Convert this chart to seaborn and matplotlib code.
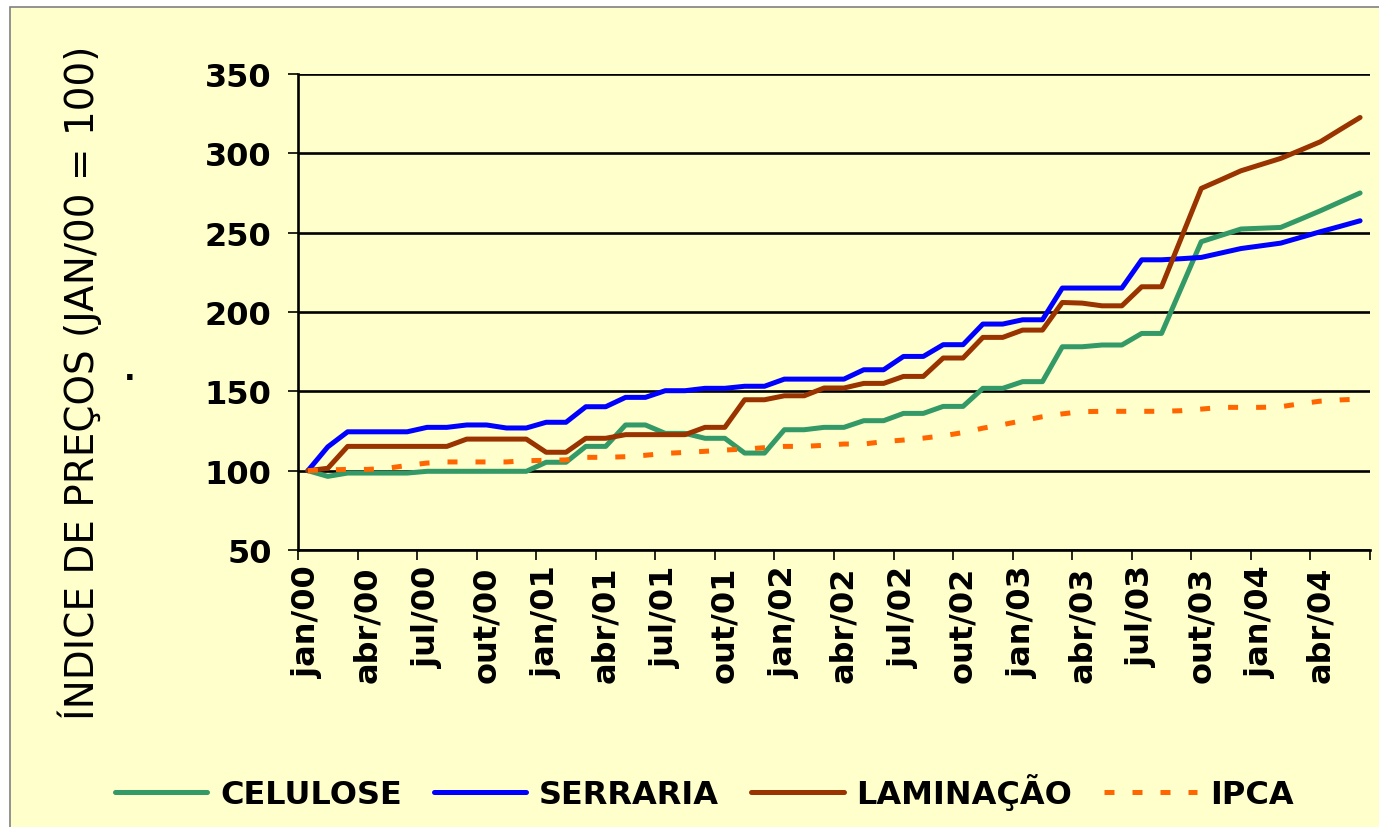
import matplotlib
matplotlib.use("Agg")
import matplotlib.pyplot as plt
from matplotlib.lines import Line2D
from matplotlib.patches import Rectangle
import pandas as pd
import seaborn as sns

# monthly index, jan/00 = 100 (jan/00 .. jun/04)
meses = ["jan", "fev", "mar", "abr", "mai", "jun", "jul", "ago", "set", "out", "nov", "dez"]
anos = ["00", "01", "02", "03", "04"]
rotulos = [m + "/" + a for a in anos for m in meses][:54]

celulose = [100, 96.4, 98.5, 98.5, 98.5, 98.5, 99.6, 99.6, 99.6, 99.6, 99.6, 99.6,
            105.3, 105.3, 115.3, 115.3, 128.8, 128.8, 123.5, 123.5, 120.4, 120.4, 111.1, 111.1,
            125.8, 125.8, 127.3, 127.3, 131.5, 131.5, 136.1, 136.1, 140.5, 140.5, 151.9, 151.9,
            156.1, 156.1, 178.1, 178.1, 179.2, 179.2, 186.5, 186.5, 215.4, 244.3, 248.3, 252.3,
            252.8, 253.3, 258.5, 263.8, 269.4, 275]
serraria = [100, 115, 124.5, 124.5, 124.5, 124.5, 127.3, 127.3, 128.8, 128.8, 126.9, 126.9,
            130.5, 130.5, 140.3, 140.3, 146.2, 146.2, 150.4, 150.4, 151.9, 151.9, 153.2, 153.2,
            157.7, 157.7, 157.7, 157.7, 163.6, 163.6, 172, 172, 179.4, 179.4, 192.4, 192.4,
            195.1, 195.1, 215.1, 215.1, 215.1, 215.1, 232.9, 232.9, 233.6, 234.4, 237.2, 240,
            241.7, 243.4, 247, 250.6, 254, 257.5]
laminacao = [100, 101.5, 115.3, 115.3, 115.3, 115.3, 115.3, 115.3, 119.9, 119.9, 119.9, 119.9,
             111.6, 111.6, 120.4, 120.4, 122.7, 122.7, 122.7, 122.7, 127.3, 127.3, 144.7, 144.7,
             147.2, 147.2, 152.1, 152.1, 155, 155, 159.4, 159.4, 171, 171, 184, 184,
             188.6, 188.6, 206, 205.6, 203.9, 203.9, 215.9, 215.9, 246.9, 277.9, 283.4, 289,
             292.9, 296.8, 302, 307.3, 315, 322.6]
ipca = [100, 100.5, 100.8, 100.8, 101.5, 103.3, 104.8, 105.5, 105.5, 105.5, 105.5, 106.3,
        106.5, 106.8, 108.4, 108.4, 108.8, 109.7, 110.9, 111.5, 112.2, 113, 113.6, 114.5,
        115.3, 115.3, 116, 116.8, 116.8, 118.3, 119.3, 120.5, 122, 124, 126.8, 129,
        131.5, 134, 135.8, 137.2, 137.4, 137.4, 137.4, 137.4, 137.8, 138.8, 139.9, 139.9,
        139.9, 140.3, 142.2, 143.8, 144.6, 145.1]

series = ["CELULOSE", "SERRARIA", "LAMINAÇÃO", "IPCA"]
cores = {"CELULOSE": "#339966", "SERRARIA": "#0000FF", "LAMINAÇÃO": "#993300", "IPCA": "#FF6600"}

df = pd.DataFrame({"mes": range(len(rotulos)), "CELULOSE": celulose, "SERRARIA": serraria,
                   "LAMINAÇÃO": laminacao, "IPCA": ipca})
df = df.melt(id_vars="mes", var_name="serie", value_name="indice")

sns.set_style("white")
plt.rcParams["font.family"] = ["DejaVu Sans"]
plt.rcParams["text.color"] = "black"
plt.rcParams["xtick.color"] = "black"
plt.rcParams["ytick.color"] = "black"

fig = plt.figure(figsize=(13.79, 8.28), dpi=100)
fig.patch.set_facecolor("white")
fig.patches.append(Rectangle((10 / 1379, -0.1), 1.2, 1.1 - 8 / 828, transform=fig.transFigure,
                             facecolor="#FFFFCC", edgecolor="#808080", linewidth=1.2, zorder=-10))

ax = fig.add_axes([298 / 1379, 1 - 551 / 828, (1370 - 298) / 1379, (551 - 75) / 828])
ax.set_facecolor("#FFFFCC")

for s in series:
    sub = df[df["serie"] == s]
    if s == "IPCA":
        sns.lineplot(data=sub, x="mes", y="indice", ax=ax, color=cores[s], linewidth=3.6,
                     linestyle=(0, (2, 3.6)), zorder=3)
    else:
        sns.lineplot(data=sub, x="mes", y="indice", ax=ax, color=cores[s], linewidth=3.6, zorder=3)

ax.set_xlim(-0.5, len(rotulos) - 0.5)
ax.set_ylim(50, 350)
ax.set_yticks(range(50, 351, 50))
ax.yaxis.grid(True, color="black", linewidth=1.9)
ax.set_axisbelow(True)

pos = list(range(0, len(rotulos), 3))
ax.set_xticks(pos)
ax.set_xticklabels([rotulos[i] for i in pos], rotation=90, fontsize=23, fontweight="bold",
                   color="black")
ax.set_xticks([p - 0.5 for p in range(0, len(rotulos) + 1, 3)], minor=True)
ax.tick_params(axis="x", which="major", bottom=True, length=0, pad=11)
ax.tick_params(axis="x", which="minor", bottom=True, length=7, width=1.2, color="black",
               direction="out")
ax.tick_params(axis="y", which="major", left=True, length=7, width=1.2, color="black",
               direction="out", pad=12, labelsize=23, labelcolor="black")
for t in ax.get_yticklabels():
    t.set_fontweight("bold")

for side in ["top", "right"]:
    ax.spines[side].set_visible(False)
for side in ["left", "bottom"]:
    ax.spines[side].set_color("black")
    ax.spines[side].set_linewidth(1.9)
ax.set_xlabel("")
ax.set_ylabel("")

fig.text(80 / 1379, 1 - 383 / 828, "ÍNDICE DE PREÇOS (JAN/00 = 100)", rotation=90,
         ha="center", va="center", fontsize=28, color="black")
fig.text(130 / 1379, 1 - 372 / 828, ".", ha="center", va="center", fontsize=22,
         fontweight="bold", color="black")

handles = []
for s in series:
    if s == "IPCA":
        handles.append(Line2D([], [], color=cores[s], linewidth=3.6, linestyle=(0, (2, 3.6))))
    else:
        handles.append(Line2D([], [], color=cores[s], linewidth=3.6))
leg = fig.legend(handles, series, loc="center", bbox_to_anchor=(704 / 1379, 1 - 793 / 828),
                 ncol=4, frameon=False, handlelength=2.9, handletextpad=0.4, columnspacing=1.0,
                 prop={"size": 23, "weight": "bold"})
for t in leg.get_texts():
    t.set_color("black")

fig.savefig("out.png", dpi=100, facecolor=fig.get_facecolor())
